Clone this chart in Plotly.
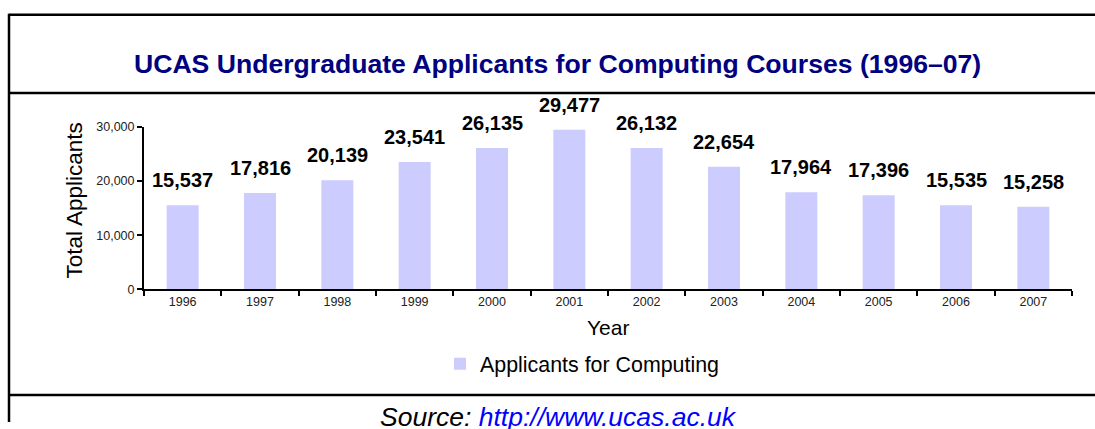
import plotly.graph_objects as go

years = ["1996", "1997", "1998", "1999", "2000", "2001", "2002", "2003", "2004", "2005", "2006", "2007"]
applicants = [15537, 17816, 20139, 23541, 26135, 29477, 26132, 22654, 17964, 17396, 15535, 15258]
y_ticks = [0, 10000, 20000, 30000]

W, H = 1095, 429
FONT = "Arial, 'Liberation Sans', sans-serif"


def px(x):
    return x / W


def py(y):
    return 1 - y / H


fig = go.Figure()
fig.add_trace(go.Bar(
    x=years, y=applicants, name="Applicants for Computing",
    marker=dict(color="#CCCCFF", line=dict(width=0)),
    showlegend=True,
))

annotations = []
for i, v in enumerate(applicants):
    annotations.append(dict(
        x=i, y=v, xref="x", yref="y", text=f"<b>{v:,}</b>", showarrow=False,
        yanchor="bottom", yshift=12,
        font=dict(family=FONT, size=20, color="#000000"),
    ))

# Title
annotations.append(dict(
    x=px(557), y=py(59), xref="paper", yref="paper", showarrow=False,
    text="<b>UCAS Undergraduate Applicants for Computing Courses (1996–07)</b>",
    font=dict(family=FONT, size=26.6, color="#000080"),
    xanchor="center", yanchor="middle",
))
# Axis titles
annotations.append(dict(
    x=px(608), y=py(331), xref="paper", yref="paper", showarrow=False,
    text="Year", font=dict(family=FONT, size=21, color="#000000"),
    xanchor="center", yanchor="middle",
))
annotations.append(dict(
    x=px(74), y=py(200), xref="paper", yref="paper", showarrow=False,
    text="Total Applicants", textangle=-90,
    font=dict(family=FONT, size=22.5, color="#000000"),
    xanchor="center", yanchor="middle",
))
# Source
annotations.append(dict(
    x=px(558), y=py(406), xref="paper", yref="paper", showarrow=False,
    text="<i>Source: <span style='color:#0000FF'>http://www.ucas.ac.uk</span></i>",
    font=dict(family=FONT, size=26.5, color="#000000"),
    xanchor="center", yanchor="top",
))

LW = 2.5
shapes = [
    dict(type="line", xref="paper", yref="paper", x0=px(9), x1=1, y0=py(8), y1=py(8),
         line=dict(color="black", width=LW)),
    dict(type="line", xref="paper", yref="paper", x0=px(9), x1=px(9), y0=py(7), y1=0,
         line=dict(color="black", width=LW)),
    dict(type="line", xref="paper", yref="paper", x0=px(9), x1=1, y0=py(89), y1=py(89),
         line=dict(color="black", width=LW)),
    dict(type="line", xref="paper", yref="paper", x0=px(9), x1=1, y0=py(401), y1=py(401),
         line=dict(color="black", width=LW)),
]

fig.update_layout(
    width=W, height=H, autosize=False,
    margin=dict(l=0, r=0, t=0, b=0),
    paper_bgcolor="white", plot_bgcolor="white",
    bargap=0.586,
    font=dict(family=FONT, color="#000000"),
    annotations=annotations,
    shapes=shapes,
    legend=dict(
        orientation="h", x=px(440), xanchor="left", y=py(369), yanchor="middle",
        font=dict(family=FONT, size=21.4, color="#000000"), bgcolor="rgba(0,0,0,0)",
    ),
    xaxis=dict(
        domain=[px(144), px(1072)], type="category", range=[-0.5, len(years) - 0.5],
        showline=True, linecolor="black", linewidth=2,
        ticks="outside", tickson="boundaries", ticklen=5, tickwidth=2, tickcolor="black",
        tickfont=dict(family=FONT, size=12.5, color="#222222"),
        showgrid=False, zeroline=False, tickangle=0,
    ),
    yaxis=dict(
        domain=[py(292), py(124)], range=[0, 30000],
        tickvals=y_ticks, tickformat=",",
        showline=True, linecolor="black", linewidth=2,
        ticks="outside", ticklen=5, tickwidth=2, tickcolor="black",
        tickfont=dict(family=FONT, size=12.5, color="#222222"),
        showgrid=False, zeroline=False,
    ),
)

fig.write_html(
    "out.html",
    post_script="document.body.style.margin='0';document.body.style.padding='0';"
                "document.documentElement.style.overflow='hidden';",
)
